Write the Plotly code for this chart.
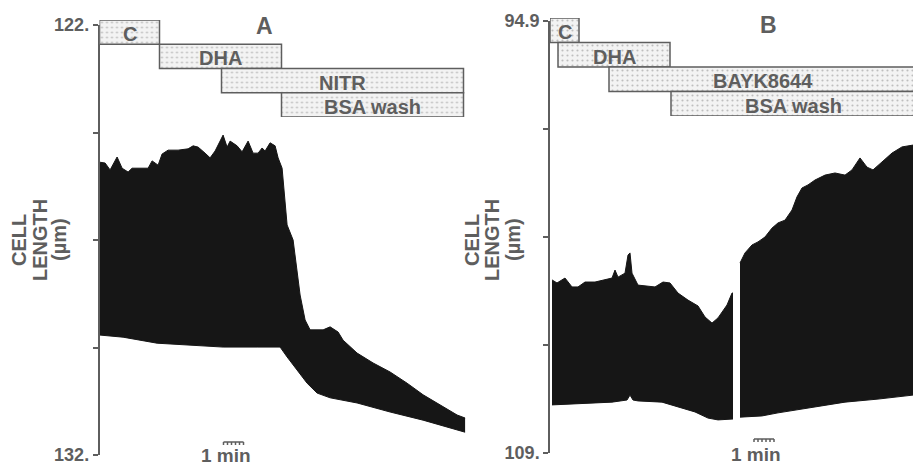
import plotly.graph_objects as go

# ---------------- data (time in min, cell length in µm) ----------------
# Panel A: envelope of the cell-length trace
A_top_t = [0.0, 0.28, 0.53, 0.88, 1.13, 1.43, 1.63, 1.93, 2.43, 2.63, 2.93, 3.13, 3.43, 3.93,
           4.43, 4.68, 4.93, 5.28, 5.53, 5.78, 6.18, 6.38, 6.53, 6.88, 7.13, 7.43, 7.68, 7.93,
           8.13, 8.28, 8.53, 8.78, 8.93, 9.13, 9.28, 9.38, 9.68, 10.03, 10.28, 10.53, 11.18,
           11.53, 11.93, 12.18, 12.88, 13.68, 14.53, 15.38, 16.18, 17.03, 17.88, 18.28]
A_top_v = [125.19, 125.21, 125.37, 125.07, 125.33, 125.42, 125.33, 125.33, 125.33, 125.16,
           125.26, 125.00, 124.91, 124.91, 124.88, 124.81, 124.84, 124.98, 125.09, 124.93,
           124.56, 124.84, 124.70, 124.81, 124.95, 124.70, 124.98, 124.98, 124.86, 124.93,
           124.74, 124.81, 125.09, 125.33, 126.02, 126.65, 127.00, 128.28, 128.86, 129.09,
           129.09, 129.02, 129.14, 129.33, 129.63, 129.86, 130.07, 130.33, 130.60, 130.84,
           131.07, 131.14]
A_bot_t = [0.0, 1.18, 2.88, 4.53, 6.18, 7.88, 9.03, 9.38, 9.88, 10.38, 10.88, 11.53, 12.88,
           14.53, 16.18, 17.88, 18.28]
A_bot_v = [129.21, 129.26, 129.40, 129.44, 129.49, 129.49, 129.49, 129.72, 130.02, 130.33,
           130.56, 130.67, 130.79, 131.00, 131.19, 131.42, 131.47]

# Panel B: two segments of the trace (recording gap between them)
B1_top_t = [0.10, 0.35, 0.75, 1.10, 1.40, 1.75, 2.25, 2.75, 3.10, 3.25, 3.40, 3.75, 3.90, 4.00,
            4.10, 4.40, 4.75, 5.25, 5.65, 6.00, 6.40, 6.90, 7.40, 7.75, 8.10, 8.40, 8.85, 9.10, 9.15]
B1_top_v = [103.35, 103.45, 103.29, 103.58, 103.58, 103.42, 103.42, 103.35, 103.29, 103.03,
            103.26, 103.13, 102.54, 102.47, 103.13, 103.52, 103.55, 103.58, 103.42, 103.45,
            103.78, 104.01, 104.20, 104.56, 104.76, 104.59, 104.17, 103.78, 103.78]
B1_bot_t = [0.10, 1.40, 3.10, 3.85, 4.00, 4.15, 4.40, 5.60, 6.40, 7.25, 7.90, 8.40, 9.15]
B1_bot_v = [107.43, 107.40, 107.34, 107.27, 107.11, 107.27, 107.30, 107.34, 107.50, 107.66,
            107.86, 107.92, 107.89]
B2_top_t = [9.50, 9.75, 10.10, 10.40, 10.75, 11.10, 11.40, 11.75, 12.10, 12.35, 12.60, 12.90,
            13.25, 13.75, 14.25, 14.75, 15.10, 15.50, 15.85, 16.15, 16.60, 17.10, 17.60, 18.15]
B2_top_v = [102.80, 102.47, 102.21, 102.11, 101.95, 101.66, 101.49, 101.40, 101.07, 100.64,
            100.35, 100.25, 100.09, 99.93, 99.86, 99.93, 99.76, 99.37, 99.67, 99.76, 99.50,
            99.21, 99.01, 98.95]
B2_bot_t = [9.50, 10.60, 11.40, 13.10, 14.75, 16.40, 18.15]
B2_bot_v = [107.83, 107.79, 107.69, 107.50, 107.34, 107.24, 107.11]

# Drug application bars (min)
A_drugs = ["C", "DHA", "NITR", "BSA wash"]
A_start = [0.0, 3.0, 6.1, 9.1]
A_end = [3.0, 9.1, 18.2, 18.2]
B_drugs = ["C", "DHA", "BAYK8644", "BSA wash"]
B_start = [0.0, 0.4, 2.95, 6.05]
B_end = [1.45, 6.0, 18.3, 18.3]

# Axis ticks
A_ticks = [122, 124.5, 127, 129.5, 132]
A_ticktext = ["122.", "", "", "", "132."]
B_ticks = [94.9, 98.425, 101.95, 105.475, 109]
B_ticktext = ["94.9", "", "", "", "109."]

A_scale_start = 6.2
B_scale_start = 10.2
SCALE_LEN = 1.0  # 1 min

# ---------------- figure ----------------
W, H = 913, 466
def px(x):
    return x / W
def py(y):
    return 1 - y / H

GRAY = "#5e5e5e"
INK = "#161616"
FONT = "Liberation Sans"

fig = go.Figure()

def add_fill(t_top, v_top, t_bot, v_bot, xa, ya):
    fig.add_trace(go.Scatter(x=t_bot, y=v_bot, xaxis=xa, yaxis=ya, mode="lines",
                             line=dict(color=INK, width=1), hoverinfo="skip", showlegend=False))
    fig.add_trace(go.Scatter(x=t_top, y=v_top, xaxis=xa, yaxis=ya, mode="lines",
                             line=dict(color=INK, width=1), fill="tonexty", fillcolor=INK,
                             hoverinfo="skip", showlegend=False))

add_fill(A_top_t, A_top_v, A_bot_t, A_bot_v, "x", "y")
add_fill(B1_top_t, B1_top_v, B1_bot_t, B1_bot_v, "x2", "y2")
add_fill(B2_top_t, B2_top_v, B2_bot_t, B2_bot_v, "x2", "y2")

annotations = []

def add_boxes(names, starts, ends, xa, ya):
    fig.add_trace(go.Bar(
        orientation="h", y=list(range(len(names))),
        x=[e - s for s, e in zip(starts, ends)], base=starts, width=1,
        xaxis=xa, yaxis=ya, hoverinfo="skip", showlegend=False,
        marker=dict(color="#f2f2f2", line=dict(color=GRAY, width=1.5),
                    pattern=dict(shape=".", size=5, solidity=0.15,
                                 fgcolor="#8a8a8a", bgcolor="#f3f3f3"))))
    for i, (n, s, e) in enumerate(zip(names, starts, ends)):
        annotations.append(dict(x=(s + e) / 2, y=i, xref=xa, yref=ya, text=n,
                                showarrow=False, yshift=-2, xanchor="center", yanchor="middle",
                                font=dict(family=FONT, size=20, color=GRAY, weight="bold")))

add_boxes(A_drugs, A_start, A_end, "x", "y3")
add_boxes(B_drugs, B_start, B_end, "x2", "y4")

tickfont = dict(family=FONT, size=18, color=GRAY, weight="bold")
def yax(dom, rng, tv, tt, anchor):
    return dict(domain=dom, range=rng, anchor=anchor, tickvals=tv, ticktext=tt,
                ticks="outside", ticklen=5, tickwidth=1.5, tickcolor=GRAY,
                showline=True, linecolor=GRAY, linewidth=1.5, showgrid=False,
                zeroline=False, tickfont=tickfont, fixedrange=True, automargin=False)

def boxax(dom, anchor):
    return dict(domain=dom, range=[3.5, -0.5], anchor=anchor, visible=False, fixedrange=True)

lab_font = dict(family=FONT, size=20, color=GRAY, weight="bold")
for xc, txt in [(19, "CELL"), (40, "LENGTH"), (59, "(µm)"),
                (472, "CELL"), (492, "LENGTH"), (513, "(µm)")]:
    annotations.append(dict(x=px(xc), y=py(240), xref="paper", yref="paper", text=txt,
                            textangle=-90, showarrow=False, xanchor="center", yanchor="middle",
                            font=lab_font))

big_font = dict(family=FONT, size=23, color=GRAY, weight="bold")
annotations.append(dict(x=px(264), y=py(26), xref="paper", yref="paper", text="A",
                        showarrow=False, xanchor="center", yanchor="middle", font=big_font))
annotations.append(dict(x=px(768), y=py(25), xref="paper", yref="paper", text="B",
                        showarrow=False, xanchor="center", yanchor="middle", font=big_font))

shapes = []
for xa, s0, ybar, ytxt in [("x", A_scale_start, 442, 455), ("x2", B_scale_start, 439, 454)]:
    y0 = py(ybar)
    y1 = py(ybar + 3)
    path = f"M {s0},{y0} L {s0 + SCALE_LEN},{y0}"
    for k in range(6):
        xx = s0 + k * SCALE_LEN / 5
        path += f" M {xx},{y0} L {xx},{y1}"
    shapes.append(dict(type="path", path=path, xref=xa, yref="paper",
                       line=dict(color=GRAY, width=1.5)))
    annotations.append(dict(x=s0 + 0.1, y=py(ytxt), xref=xa, yref="paper", text="1 min",
                            showarrow=False, xanchor="center", yanchor="middle",
                            font=dict(family=FONT, size=19, color=GRAY, weight="bold")))

fig.update_layout(
    width=W, height=H, margin=dict(l=0, r=0, t=0, b=0, pad=0, autoexpand=False),
    paper_bgcolor="white", plot_bgcolor="rgba(0,0,0,0)",
    barmode="overlay", showlegend=False,
    xaxis=dict(domain=[px(99.5), px(470)], range=[0, 18.525], visible=False, fixedrange=True),
    xaxis2=dict(domain=[px(550), 1.0], range=[0, 18.15], visible=False, fixedrange=True),
    yaxis=yax([py(455), py(25)], [132, 122], A_ticks, A_ticktext, "x"),
    yaxis2=yax([py(453), py(21)], [109, 94.9], B_ticks, B_ticktext, "x2"),
    yaxis3=boxax([py(117), py(20)], "x"),
    yaxis4=boxax([py(116), py(18)], "x2"),
    annotations=annotations, shapes=shapes,
)

fig.write_html("out.html", config={"displayModeBar": False},
               post_script="document.body.style.margin='0px';")
